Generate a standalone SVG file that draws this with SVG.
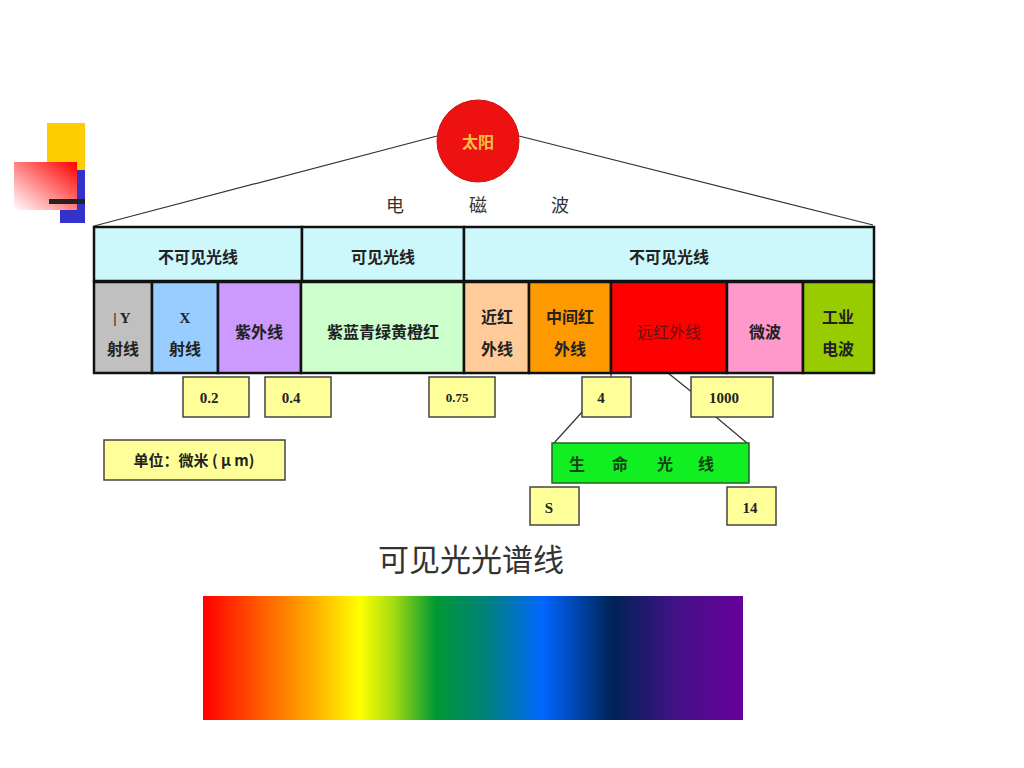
<svg xmlns="http://www.w3.org/2000/svg" width="1024" height="768" viewBox="0 0 1024 768">
<style>
.cjk{font-family:"Noto Sans CJK SC","Noto Sans",sans-serif;font-weight:bold;font-size:16px;fill:#222;text-anchor:middle}
.num{font-family:"Liberation Serif",serif;font-weight:bold;font-size:15px;fill:#222;text-anchor:middle}
.cell{stroke:#111;stroke-width:2.5}
.ybox{fill:#ffff99;stroke:#444;stroke-width:1.5}
.ln{stroke:#333;stroke-width:1.2;fill:none}
</style>
<defs>
<linearGradient id="redg" x1="0" y1="1" x2="1" y2="0">
<stop offset="0" stop-color="#ffffff"/>
<stop offset="1" stop-color="#ff0000"/>
</linearGradient>
<linearGradient id="spec" x1="0" y1="0" x2="1" y2="0">
<stop offset="0" stop-color="#ff0000"/>
<stop offset="0.12" stop-color="#ff6600"/>
<stop offset="0.2" stop-color="#ffaa00"/>
<stop offset="0.29" stop-color="#ffff00"/>
<stop offset="0.35" stop-color="#aadd11"/>
<stop offset="0.43" stop-color="#009933"/>
<stop offset="0.53" stop-color="#008080"/>
<stop offset="0.63" stop-color="#0066ff"/>
<stop offset="0.76" stop-color="#002255"/>
<stop offset="0.88" stop-color="#441188"/>
<stop offset="1" stop-color="#660099"/>
</linearGradient>
</defs>
<rect width="1024" height="768" fill="#fff"/>
<g id="decoration">
<rect x="47" y="123" width="38" height="47" fill="#ffcc00"/>
<rect x="60" y="170" width="25" height="53" fill="#3333cc"/>
<rect x="14" y="162" width="63" height="48" fill="url(#redg)"/>
<rect x="49" y="199" width="36" height="5" fill="#222"/>
</g>
<g id="connectors">
<line class="ln" x1="437" y1="136" x2="94" y2="226"/>
<line class="ln" x1="519" y1="136" x2="873" y2="225"/>
<line class="ln" x1="611" y1="373" x2="611" y2="377"/>
<line class="ln" x1="668" y1="373" x2="693" y2="393"/>
<line class="ln" x1="583" y1="411" x2="554" y2="443"/>
<line class="ln" x1="716" y1="417" x2="747" y2="443"/>
</g>
<g id="sun">
<circle cx="478" cy="141" r="41" fill="#ee1111" stroke="#cc1111" stroke-width="1"/>
<text x="478" y="148" class="cjk" style="fill:#f5c040;font-size:16px">太阳</text>
</g>
<g id="title-em">
<text x="395" y="212" class="cjk" style="font-weight:normal;font-size:18px;fill:#333">电</text>
<text x="478" y="212" class="cjk" style="font-weight:normal;font-size:18px;fill:#333">磁</text>
<text x="560" y="212" class="cjk" style="font-weight:normal;font-size:18px;fill:#333">波</text>
</g>
<g id="header">
<rect class="cell" x="94" y="227" width="208" height="54" fill="#ccf8fc"/>
<rect class="cell" x="302" y="227" width="162" height="54" fill="#ccf8fc"/>
<rect class="cell" x="464" y="227" width="410" height="54" fill="#ccf8fc"/>
<text x="198" y="263" class="cjk">不可见光线</text>
<text x="383" y="263" class="cjk">可见光线</text>
<text x="669" y="263" class="cjk">不可见光线</text>
</g>
<g id="gamma">
<rect class="cell" x="94" y="282" width="58" height="91" fill="#c0c0c0"/>
<text x="122" y="323" class="num">| Y</text>
<text x="123" y="355" class="cjk">射线</text>
</g>
<g id="xray">
<rect class="cell" x="152" y="282" width="66" height="91" fill="#99ccff"/>
<text x="185" y="323" class="num">X</text>
<text x="185" y="355" class="cjk">射线</text>
</g>
<g id="uv">
<rect class="cell" x="218" y="282" width="83" height="91" fill="#cc99ff"/>
<text x="259" y="338" class="cjk">紫外线</text>
</g>
<g id="visible">
<rect class="cell" x="301" y="282" width="163" height="91" fill="#ccffcc"/>
<text x="383" y="338" class="cjk">紫蓝青绿黄橙红</text>
</g>
<g id="nir">
<rect class="cell" x="464" y="282" width="65" height="91" fill="#ffcc99"/>
<text x="497" y="323" class="cjk">近红</text>
<text x="497" y="355" class="cjk">外线</text>
</g>
<g id="mir">
<rect class="cell" x="529" y="282" width="82" height="91" fill="#ff9900"/>
<text x="570" y="323" class="cjk">中间红</text>
<text x="570" y="355" class="cjk">外线</text>
</g>
<g id="fir">
<rect class="cell" x="611" y="282" width="116" height="91" fill="#ff0000"/>
<text x="669" y="338" class="cjk" style="fill:#661111;font-weight:normal">远红外线</text>
</g>
<g id="microwave">
<rect class="cell" x="727" y="282" width="76" height="91" fill="#ff99cc"/>
<text x="765" y="338" class="cjk">微波</text>
</g>
<g id="radio">
<rect class="cell" x="803" y="282" width="71" height="91" fill="#99cc00"/>
<text x="838" y="323" class="cjk">工业</text>
<text x="838" y="355" class="cjk">电波</text>
</g>
<g id="v02"><rect class="ybox" x="183" y="377" width="66" height="40"/><text x="209" y="403" class="num">0.2</text></g>
<g id="v04"><rect class="ybox" x="265" y="377" width="66" height="40"/><text x="291" y="403" class="num">0.4</text></g>
<g id="v075"><rect class="ybox" x="429" y="377" width="66" height="40"/><text x="457" y="402" class="num" style="font-size:13px">0.75</text></g>
<g id="v4"><rect class="ybox" x="582" y="377" width="49" height="40"/><text x="601" y="403" class="num">4</text></g>
<g id="v1000"><rect class="ybox" x="691" y="377" width="82" height="40"/><text x="724" y="403" class="num">1000</text></g>
<g id="unit"><rect class="ybox" x="104" y="440" width="181" height="40"/><text x="194" y="466" class="cjk" style="font-size:15px">单位：微米 ( μ m)</text></g>
<g id="life">
<rect x="552" y="443" width="197" height="40" fill="#11ee22" stroke="#226622" stroke-width="1.5"/>
<text x="577" y="470" class="cjk" style="fill:#114411">生</text>
<text x="620" y="470" class="cjk" style="fill:#114411">命</text>
<text x="665" y="470" class="cjk" style="fill:#114411">光</text>
<text x="706" y="470" class="cjk" style="fill:#114411">线</text>
</g>
<g id="v8"><rect class="ybox" x="530" y="487" width="49" height="38"/><text x="549" y="513" class="num">S</text></g>
<g id="v14"><rect class="ybox" x="727" y="487" width="49" height="38"/><text x="750" y="513" class="num">14</text></g>
<g id="spectrum">
<text x="471" y="571" style="font-family:'Noto Sans CJK SC',sans-serif;font-size:31px;fill:#333;text-anchor:middle">可见光光谱线</text>
<rect x="203" y="596" width="540" height="124" fill="url(#spec)"/>
</g>
</svg>
